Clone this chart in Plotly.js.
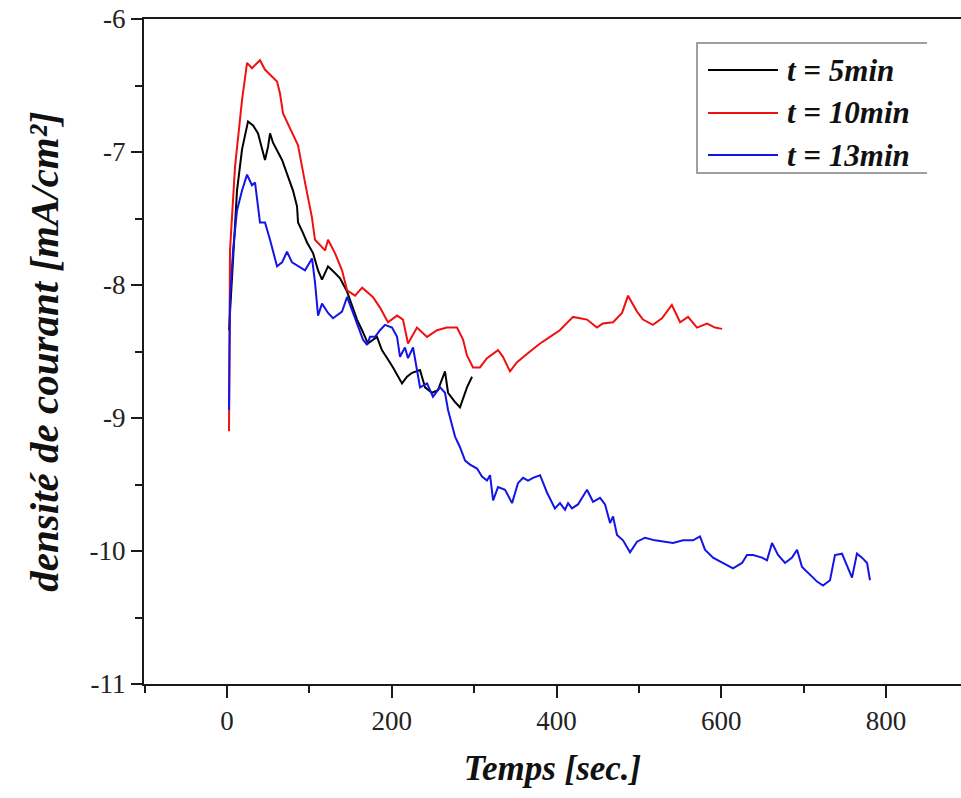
<!DOCTYPE html>
<html>
<head>
<meta charset="utf-8">
<script src="https://cdn.plot.ly/plotly-3.0.1.min.js"></script>
<style>html,body{margin:0;padding:0;background:#fff;}#chart{width:961px;height:798px;}</style>
</head>
<body>
<div id="chart"></div>
<script>
// t = 5min
const time5 = [2.4, 12.1, 18.2, 25.5, 31.6, 37.6, 46.1, 49.8, 52.2, 55.8, 66.8, 72.8, 80.1, 85, 86.2, 92.3, 97.1, 104.4, 110.5, 115.3, 122.6, 131, 137.2, 145.7, 157.8, 163.9, 171, 182, 188, 195.4, 201.5, 212.4, 218.5, 224.6, 234.3, 240.4, 248.8, 256, 264.6, 268.3, 276.8, 282.8, 291.3, 297.4];
const dens5 = [-8.34, -7.29, -6.98, -6.77, -6.80, -6.86, -7.06, -6.96, -6.86, -6.93, -7.06, -7.16, -7.29, -7.41, -7.53, -7.61, -7.68, -7.76, -7.89, -7.96, -7.86, -7.91, -7.95, -8.05, -8.26, -8.34, -8.44, -8.39, -8.49, -8.56, -8.62, -8.74, -8.69, -8.66, -8.64, -8.77, -8.81, -8.79, -8.65, -8.81, -8.88, -8.92, -8.77, -8.69];

// t = 10min
const time10 = [2.4, 3.6, 9.7, 18.2, 24.3, 30.3, 40, 46, 60.7, 64.3, 68, 82.5, 86.2, 94.7, 103, 106.8, 119, 122.6, 131, 139.6, 145.7, 155.4, 164, 177, 185.7, 195.4, 206.4, 213.6, 219.7, 230.6, 242.8, 254.9, 267, 279.2, 286.5, 291.3, 298.6, 307, 315.6, 329, 335, 343.5, 352, 367.8, 380, 392, 404, 420, 437, 449, 456, 468.6, 479.5, 486.8, 497.7, 505, 517, 528, 540, 550, 559.6, 570.5, 582.7, 592.4, 601];
const dens10 = [-9.10, -7.74, -7.11, -6.61, -6.33, -6.37, -6.31, -6.38, -6.47, -6.56, -6.71, -6.91, -6.95, -7.23, -7.49, -7.66, -7.74, -7.66, -7.76, -7.89, -8.04, -8.08, -8.02, -8.09, -8.17, -8.28, -8.23, -8.26, -8.44, -8.32, -8.39, -8.34, -8.32, -8.32, -8.41, -8.53, -8.62, -8.62, -8.55, -8.49, -8.54, -8.65, -8.58, -8.50, -8.44, -8.39, -8.34, -8.24, -8.26, -8.32, -8.29, -8.28, -8.21, -8.08, -8.20, -8.26, -8.30, -8.25, -8.15, -8.28, -8.24, -8.32, -8.29, -8.32, -8.33];

// t = 13min
const time13 = [2.4, 3.6, 7.3, 12.1, 18.2, 24.3, 30.3, 34, 40, 46.1, 52.2, 60.7, 66.8, 72.8, 78.9, 86.2, 94.7, 103.2, 106.8, 110.5, 115.3, 122.6, 128.7, 139.6, 145.7, 153, 161.4, 165, 170, 173.6, 179.7, 185.7, 191.8, 200.3, 206.4, 210, 216, 219.7, 225.8, 230.6, 234.3, 242.8, 250, 258.6, 264.6, 268.3, 273.1, 276.8, 282.8, 289, 295, 303.5, 309.5, 315.6, 319.3, 323, 329, 337.5, 346, 353.2, 359.3, 365.4, 371.4, 380, 388.4, 398, 404.2, 410.3, 414, 418.8, 426, 437, 444.3, 452.8, 458.9, 465, 468.6, 473.4, 480.7, 489.2, 497.7, 507.4, 519.5, 529.3, 541.4, 553.5, 565.7, 574.2, 580.2, 590, 602, 614.2, 625.2, 631.2, 638.5, 649.4, 655.5, 661.6, 668.9, 677.4, 685.9, 692, 698, 705.3, 711.4, 716.2, 723.5, 732, 738, 746.5, 752.6, 758.7, 764.7, 770.8, 777, 780.5];
const dens13 = [-8.94, -8.11, -7.74, -7.44, -7.29, -7.17, -7.25, -7.23, -7.53, -7.53, -7.66, -7.86, -7.83, -7.75, -7.83, -7.86, -7.89, -7.80, -7.98, -8.23, -8.14, -8.21, -8.25, -8.20, -8.09, -8.21, -8.36, -8.41, -8.45, -8.39, -8.39, -8.34, -8.30, -8.32, -8.39, -8.54, -8.47, -8.55, -8.47, -8.64, -8.77, -8.74, -8.84, -8.77, -8.81, -8.94, -9.05, -9.14, -9.22, -9.32, -9.35, -9.38, -9.44, -9.47, -9.43, -9.62, -9.52, -9.54, -9.64, -9.49, -9.45, -9.47, -9.45, -9.43, -9.56, -9.68, -9.64, -9.69, -9.64, -9.68, -9.65, -9.54, -9.63, -9.60, -9.65, -9.79, -9.74, -9.88, -9.92, -10.01, -9.93, -9.90, -9.92, -9.93, -9.94, -9.92, -9.92, -9.89, -9.99, -10.05, -10.09, -10.13, -10.09, -10.03, -10.03, -10.05, -10.07, -9.94, -10.03, -10.09, -10.05, -9.99, -10.12, -10.16, -10.20, -10.23, -10.26, -10.22, -10.03, -10.02, -10.11, -10.20, -10.02, -10.05, -10.09, -10.22];

const seriesNames = ['t = 5min', 't = 10min', 't = 13min'];
const seriesColors = ['#000000', '#f01010', '#1414e6'];
const xTickVals = [0, 200, 400, 600, 800];
const yTickVals = [-11, -10, -9, -8, -7, -6];

const serif = 'Liberation Serif, Times New Roman, serif';
const lineCol = '#1a1a1a';

const xs = [time5, time10, time13];
const ys = [dens5, dens10, dens13];
const traces = xs.map((x, i) => ({
  x: x, y: ys[i], name: seriesNames[i], mode: 'lines',
  line: {color: seriesColors[i], width: 2}, showlegend: false
}));

// custom legend (paper coordinates), geometry in px converted to paper fractions
const L = 144, W = 817, B = 684, H = 665;
const px = v => (v - L) / W;
const py = v => (B - v) / H;
const legShapes = [
  {type: 'path', xref: 'paper', yref: 'paper',
   path: `M ${px(927)} ${py(43)} L ${px(697)} ${py(43)} L ${px(697)} ${py(173)} L ${px(927)} ${py(173)}`,
   line: {color: '#808080', width: 1.5}}
];
const legAnn = [];
const rowY = [70, 113, 155];
seriesNames.forEach((n, i) => {
  legShapes.push({type: 'line', xref: 'paper', yref: 'paper',
    x0: px(708), x1: px(778), y0: py(rowY[i]), y1: py(rowY[i]),
    line: {color: seriesColors[i], width: 2}});
  legAnn.push({xref: 'paper', yref: 'paper', x: px(785), y: py(rowY[i]),
    xanchor: 'left', yanchor: 'middle', showarrow: false, text: n,
    font: {family: serif, size: 31, color: '#111111', weight: 'bold', style: 'italic'}});
});

const layout = {
  width: 961, height: 798,
  margin: {l: 144, r: 0, t: 19, b: 114},
  paper_bgcolor: '#ffffff', plot_bgcolor: '#ffffff',
  showlegend: false,
  shapes: legShapes,
  annotations: legAnn,
  xaxis: {
    range: [-100.8, 891], autorange: false,
    tickvals: xTickVals, ticktext: xTickVals.map(String),
    ticks: 'outside', ticklen: 12, tickwidth: 2, tickcolor: lineCol,
    minor: {dtick: 100, tick0: 0, ticks: 'outside', ticklen: 7, tickwidth: 2, tickcolor: lineCol, showgrid: false},
    showline: true, linecolor: lineCol, linewidth: 2, mirror: true,
    showgrid: false, zeroline: false,
    tickfont: {family: serif, size: 27, color: '#222222'},
    title: {text: 'Temps [sec.]', standoff: 20, font: {family: serif, size: 35, color: '#111111', weight: 'bold', style: 'italic'}}
  },
  yaxis: {
    range: [-11, -6], autorange: false,
    tickvals: yTickVals, ticktext: yTickVals.map(String),
    ticks: 'outside', ticklen: 11, tickwidth: 2, tickcolor: lineCol,
    minor: {dtick: 0.5, tick0: 0, ticks: 'outside', ticklen: 7, tickwidth: 2, tickcolor: lineCol, showgrid: false},
    showline: true, linecolor: lineCol, linewidth: 2, mirror: false,
    showgrid: false, zeroline: false,
    tickfont: {family: serif, size: 27, color: '#222222'},
    title: {text: 'densité de courant [mA/cm²]', standoff: 18, font: {family: serif, size: 41, color: '#111111', weight: 'bold', style: 'italic'}}
  }
};

Plotly.newPlot('chart', traces, layout, {displayModeBar: false, staticPlot: true});
</script>
</body>
</html>
